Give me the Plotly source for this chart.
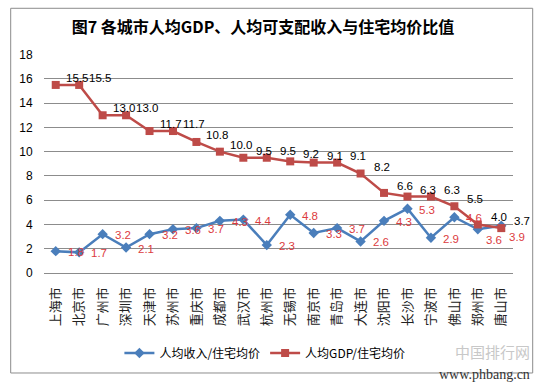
import plotly.graph_objects as go

cities = ["上海市", "北京市", "广州市", "深圳市", "天津市", "苏州市", "重庆市", "成都市", "武汉市", "杭州市",
          "无锡市", "南京市", "青岛市", "大连市", "沈阳市", "长沙市", "宁波市", "佛山市", "郑州市", "唐山市"]
income_ratio = [1.8, 1.7, 3.2, 2.1, 3.2, 3.6, 3.7, 4.3, 4.4, 2.3,
                4.8, 3.3, 3.7, 2.6, 4.3, 5.3, 2.9, 4.6, 3.6, 3.9]
gdp_ratio = [15.5, 15.5, 13.0, 13.0, 11.7, 11.7, 10.8, 10.0, 9.5, 9.5,
             9.2, 9.1, 9.1, 8.2, 6.6, 6.3, 6.3, 5.5, 4.0, 3.7]
y_ticks = [0, 2, 4, 6, 8, 10, 12, 14, 16, 18]

title_text = "图7 各城市人均GDP、人均可支配收入与住宅均价比值"
name_income = "人均收入/住宅均价"
name_gdp = "人均GDP/住宅均价"

BLUE = "#4A7EBB"
RED = "#BE4B48"
GRID = "#8C8C8C"
CJK = "Noto Sans CJK SC"
NUM = "Liberation Sans"

fig = go.Figure()
fig.add_trace(go.Scatter(
    x=cities, y=income_ratio, name=name_income, mode="lines+markers",
    line=dict(color=BLUE, width=2.5),
    marker=dict(symbol="diamond", size=8, color=BLUE),
))
fig.add_trace(go.Scatter(
    x=cities, y=gdp_ratio, name=name_gdp, mode="lines+markers",
    line=dict(color=RED, width=2.5),
    marker=dict(symbol="square", size=8, color=RED),
))

annotations = []
n = len(cities)
for i, (c, v) in enumerate(zip(cities, gdp_ratio)):
    annotations.append(dict(x=c, y=v, xref="x", yref="y", text=f"{v:.1f}", showarrow=False,
                            xanchor="center", yanchor="middle", xshift=21, yshift=7,
                            font=dict(family=NUM, size=11.5, color="#000000")))
for i, (c, v) in enumerate(zip(cities, income_ratio)):
    below = i >= n - 2  # last two labels sit below-right of their markers
    annotations.append(dict(x=c, y=v, xref="x", yref="y", text=f"{v:.1f}", showarrow=False,
                            xanchor="center", yanchor="middle",
                            xshift=16 if below else 20, yshift=-11 if below else -1,
                            font=dict(family=NUM, size=11.5, color="#DC3B3E")))

# watermark
annotations.append(dict(x=1.04, y=-0.36, xref="paper", yref="paper", text="中国排行网",
                        showarrow=False, xanchor="right", yanchor="middle",
                        font=dict(family=CJK, size=15, color="#C8C8C8")))
annotations.append(dict(x=1.04, y=-0.465, xref="paper", yref="paper", text="www.phbang.cn",
                        showarrow=False, xanchor="right", yanchor="middle",
                        font=dict(family="Liberation Serif", size=14, color="#333333")))

fig.update_layout(
    width=539, height=385,
    margin=dict(l=44, r=26, t=54, b=112),
    paper_bgcolor="white", plot_bgcolor="white",
    title=dict(text="<b>" + title_text + "</b>", x=263 / 539, xref="container", xanchor="center",
               y=1 - 27 / 385, yref="container", yanchor="middle",
               font=dict(family=CJK, size=16, color="#000000")),
    showlegend=True,
    legend=dict(orientation="h", x=0.471, xanchor="center", y=-0.365, yanchor="middle",
                font=dict(family=CJK, size=12, color="#000000"), itemwidth=30,
                bgcolor="rgba(0,0,0,0)"),
    annotations=annotations,
    shapes=[dict(type="rect", xref="paper", yref="paper", x0=-0.071, x1=1.042, y0=-0.4566, y1=1.2087,
                 line=dict(color="#8C8C8C", width=1), fillcolor="rgba(0,0,0,0)", layer="above")],
)
fig.update_xaxes(
    type="category", range=[-0.5, n - 0.5], tickangle=-90, showgrid=False, zeroline=False,
    showline=True, linecolor=GRID, linewidth=1,
    ticks="outside", ticklen=8, tickcolor="rgba(0,0,0,0)",
    tickfont=dict(family=CJK, size=13, color="#222222"),
)
fig.update_yaxes(
    range=[0, 18.05], tickvals=y_ticks, showgrid=True, gridcolor=GRID, gridwidth=1,
    zeroline=False, showline=False,
    ticks="outside", ticklen=8, tickcolor="rgba(0,0,0,0)",
    tickfont=dict(family=NUM, size=12, color="#000000"),
)

fig.write_html("out.html", config={"displayModeBar": False},
               post_script="document.body.style.margin='0';")
